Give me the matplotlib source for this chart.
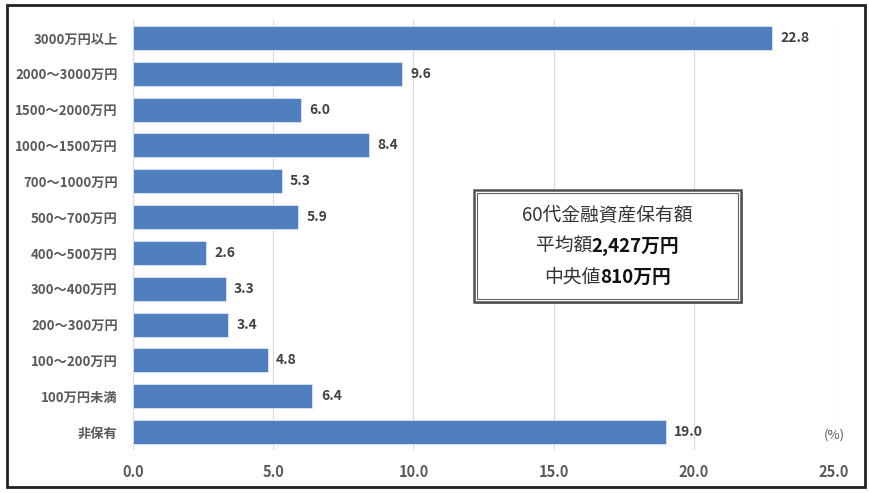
import matplotlib
matplotlib.use("Agg")
import matplotlib.pyplot as plt
from matplotlib.patches import Rectangle

plt.rcParams["font.family"] = ["Noto Sans CJK JP", "DejaVu Sans"]

categories = ["3000万円以上", "2000～3000万円", "1500～2000万円", "1000～1500万円",
              "700～1000万円", "500～700万円", "400～500万円", "300～400万円",
              "200～300万円", "100～200万円", "100万円未満", "非保有"]
values = [22.8, 9.6, 6.0, 8.4, 5.3, 5.9, 2.6, 3.3, 3.4, 4.8, 6.4, 19.0]
xticks = [0, 5, 10, 15, 20, 25]

box_title = "60代金融資産保有額"
avg_label, avg_value = "平均額", "2,427万円"
med_label, med_value = "中央値", "810万円"

fig = plt.figure(figsize=(8.7, 4.93), dpi=100)
ax = fig.add_axes([0.1529, 0.0872, 0.8057, 0.8722])

y = list(range(len(categories)))
ax.barh(y, values, height=0.67, color="#4f7fbf", edgecolor="#dbe6f3", linewidth=0.6, zorder=3)
ax.set_ylim(len(categories) - 0.5, -0.5)
ax.set_xlim(0, 25)
ax.set_yticks(y)
ax.set_yticklabels(categories, fontsize=9.5, fontweight="bold", color="#595959")
ax.set_xticks(xticks)
ax.set_xticklabels([f"{t:.1f}" for t in xticks], fontsize=10.5, fontweight="bold", color="#595959")
ax.tick_params(length=0, pad=10)
ax.tick_params(axis="y", pad=11)
ax.grid(axis="x", color="#d9d9d9", linewidth=0.8, zorder=0)
for s in ax.spines.values():
    s.set_visible(False)

for yi, v in zip(y, values):
    ax.text(v + 0.3, yi, f"{v:.1f}", va="center", ha="left", fontsize=10,
            fontweight="bold", color="#404040", zorder=4)

ax.text(1.0, 0.02, "(%)", transform=ax.transAxes, ha="center", va="bottom",
        fontsize=9.5, color="#595959")

# info box
bx0, by0, bw, bh = 474 / 870, 1 - 302 / 493, 267 / 870, 112 / 493
fig.patches.append(Rectangle((bx0 + 0.002, by0 - 0.004), bw, bh, transform=fig.transFigure,
                             facecolor="#9a9a9a", edgecolor="none", zorder=5))
fig.patches.append(Rectangle((bx0, by0), bw, bh, transform=fig.transFigure,
                             facecolor="white", edgecolor="#505050", linewidth=1.8, zorder=6))
fig.patches.append(Rectangle((bx0 + 0.004, by0 + 0.007), bw - 0.008, bh - 0.014,
                             transform=fig.transFigure, facecolor="none",
                             edgecolor="#606060", linewidth=0.8, zorder=7))
cx = bx0 + bw / 2
fig.text(cx, 1 - 215 / 493, box_title, ha="center", va="center", fontsize=13.5,
         color="#333333", zorder=8)


def mixed_line(yfig, lab, val):
    t1 = fig.text(0, yfig, lab, ha="left", va="center", fontsize=13.5, color="#333333", zorder=8)
    t2 = fig.text(0, yfig, val, ha="left", va="center", fontsize=13.5, fontweight="bold",
                  color="#111111", zorder=8)
    r = fig.canvas.get_renderer()
    w1 = t1.get_window_extent(r).width / fig.bbox.width
    w2 = t2.get_window_extent(r).width / fig.bbox.width
    start = cx - (w1 + w2) / 2
    t1.set_x(start)
    t2.set_x(start + w1)


mixed_line(1 - 246 / 493, avg_label, avg_value)
mixed_line(1 - 277 / 493, med_label, med_value)

# outer frame
fig.patches.append(Rectangle((7 / 870, 1 - 487 / 493), 858 / 870, 482 / 493,
                             transform=fig.transFigure, facecolor="none",
                             edgecolor="#222222", linewidth=2, zorder=10))

fig.savefig("out.png", dpi=100)
